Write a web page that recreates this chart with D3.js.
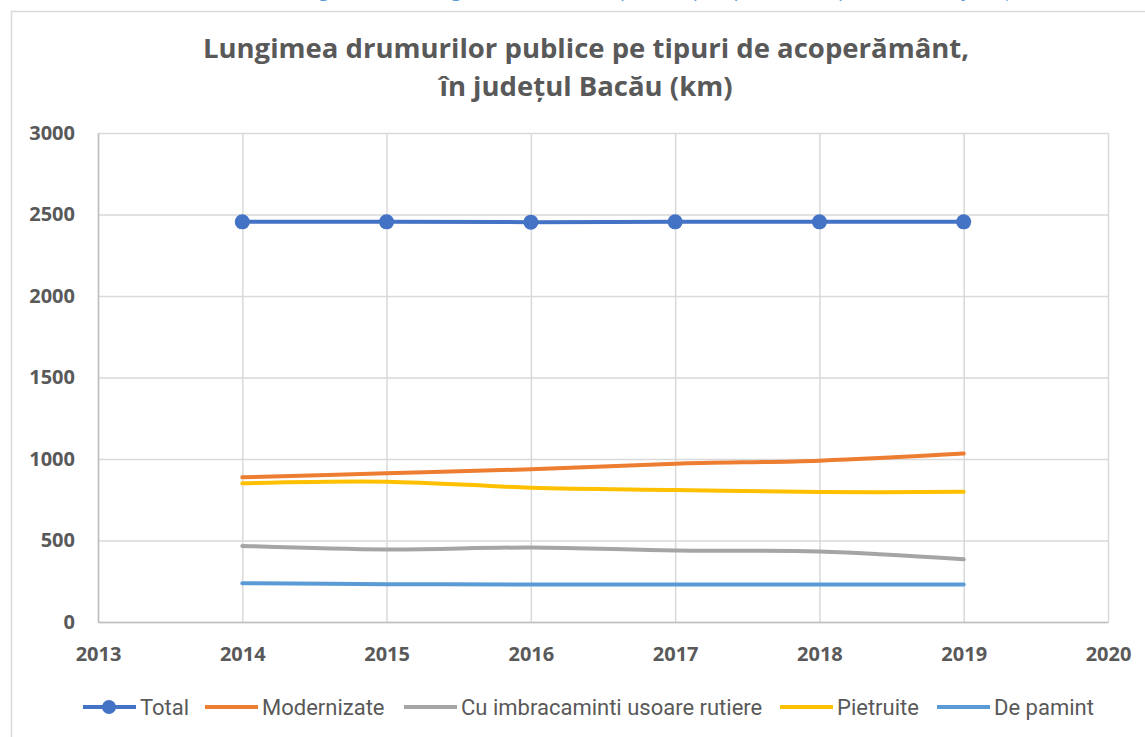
<!DOCTYPE html>
<html>
<head>
<meta charset="utf-8">
<script src="https://cdn.jsdelivr.net/npm/d3@7"></script>
<style>
  body { margin: 0; background: #fff; }
  svg { display: block; font-family: "Open Sans", "Liberation Sans", sans-serif; }
</style>
</head>
<body>
<svg id="chart"></svg>
<script>
// Data
const years = [2014, 2015, 2016, 2017, 2018, 2019];
const total = [2455, 2455, 2453, 2455, 2455, 2455];
const modernizate = [888, 912, 937, 971, 990, 1033];
const usoare = [467, 445, 457, 439, 433, 385];
const pietruite = [851, 861, 824, 810, 797, 799];
const pamint = [238, 232, 230, 230, 230, 230];
const yTicks = [0, 500, 1000, 1500, 2000, 2500, 3000];
const xTicks = [2013, 2014, 2015, 2016, 2017, 2018, 2019, 2020];

const series = [
  { name: "Total", values: total, color: "#4472c4", marker: true },
  { name: "Modernizate", values: modernizate, color: "#ed7d31" },
  { name: "Cu imbracaminti usoare rutiere", values: usoare, color: "#a5a5a5" },
  { name: "Pietruite", values: pietruite, color: "#ffc000" },
  { name: "De pamint", values: pamint, color: "#5b9bd5" }
];

const width = 1145, height = 737;
const margin = { top: 133, right: 37, bottom: 115, left: 98 };
const innerW = width - margin.left - margin.right;
const innerH = height - margin.top - margin.bottom;

const svg = d3.select("#chart").attr("width", width).attr("height", height);

// caption above the chart frame, cut off by the page edge
svg.append("text")
  .attr("x", 1136).attr("y", -4)
  .attr("text-anchor", "end")
  .attr("fill", "#5b9bd5")
  .attr("font-size", 20)
  .text("Figura 4.12. Lungimea drumurilor publice pe tipuri de acoperământ, în județul Bacău (km)");

// chart frame
svg.append("rect")
  .attr("x", 11.5).attr("y", 11.5)
  .attr("width", 1145).attr("height", 740)
  .attr("fill", "#fff").attr("stroke", "#d9d9d9").attr("stroke-width", 1.5);

// title
const title = svg.append("text")
  .attr("text-anchor", "middle")
  .attr("fill", "#595959")
  .attr("font-size", 27.5)
  .attr("font-weight", "bold");
title.append("tspan").attr("x", 586).attr("y", 58).text("Lungimea drumurilor publice pe tipuri de acoperământ,");
title.append("tspan").attr("x", 586).attr("y", 96).text("în județul Bacău (km)");

const x = d3.scaleLinear().domain([2013, 2020]).range([0, innerW]);
const y = d3.scaleLinear().domain([0, 3000]).range([innerH, 0]);

const g = svg.append("g").attr("transform", `translate(${margin.left},${margin.top})`);

// gridlines
g.append("g")
  .call(d3.axisLeft(y).tickValues(yTicks).tickSize(-innerW).tickFormat(""))
  .call(a => a.select(".domain").remove())
  .selectAll("line").attr("stroke", "#d9d9d9").attr("stroke-width", 1.5);
g.append("g")
  .attr("transform", `translate(0,${innerH})`)
  .call(d3.axisBottom(x).tickValues(xTicks).tickSize(-innerH).tickFormat(""))
  .call(a => a.select(".domain").remove())
  .selectAll("line").attr("stroke", "#d9d9d9").attr("stroke-width", 1.5);

// axes
const yAxisG = g.append("g")
  .call(d3.axisLeft(y).tickValues(yTicks).tickSize(0).tickPadding(23).tickFormat(d3.format("d")));
yAxisG.select(".domain").attr("stroke", "#bfbfbf").attr("stroke-width", 1.5);
yAxisG.selectAll("text").attr("fill", "#595959").attr("font-size", 20).attr("font-weight", "bold")
  .attr("font-family", "Open Sans, sans-serif");

const xAxisG = g.append("g")
  .attr("transform", `translate(0,${innerH})`)
  .call(d3.axisBottom(x).tickValues(xTicks).tickSize(0).tickPadding(25).tickFormat(d3.format("d")));
xAxisG.select(".domain").attr("stroke", "#bfbfbf").attr("stroke-width", 1.5);
xAxisG.selectAll("text").attr("fill", "#595959").attr("font-size", 20).attr("font-weight", "bold")
  .attr("font-family", "Open Sans, sans-serif");

// lines
const line = d3.line()
  .x((d, i) => x(years[i]))
  .y(d => y(d))
  .curve(d3.curveCatmullRom.alpha(0.5));

[...series].reverse().forEach(s => {
  g.append("path")
    .datum(s.values)
    .attr("fill", "none")
    .attr("stroke", s.color)
    .attr("stroke-width", 4)
    .attr("stroke-linecap", "round")
    .attr("d", line);
  if (s.marker) {
    g.selectAll(null).data(s.values).enter().append("circle")
      .attr("cx", (d, i) => x(years[i]))
      .attr("cy", d => y(d))
      .attr("r", 7.5)
      .attr("fill", s.color);
  }
});

// legend
const legendX = [83, 205, 404, 780, 937];
const legend = svg.append("g").attr("transform", "translate(0,707)");
series.forEach((s, i) => {
  const lg = legend.append("g").attr("transform", `translate(${legendX[i]},0)`);
  lg.append("line").attr("x1", 0).attr("x2", 53).attr("y1", 0).attr("y2", 0)
    .attr("stroke", s.color).attr("stroke-width", 4);
  if (s.marker) lg.append("circle").attr("cx", 26).attr("cy", 0).attr("r", 7).attr("fill", s.color);
  lg.append("text").attr("x", 57).attr("y", 7.5)
    .attr("fill", "#595959").attr("font-size", 22)
    .attr("font-family", "Roboto, sans-serif")
    .text(s.name);
});
</script>
</body>
</html>
